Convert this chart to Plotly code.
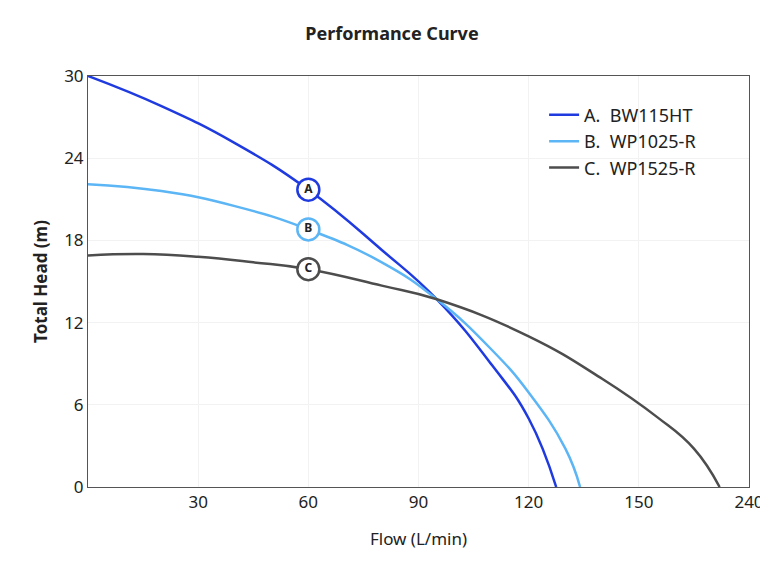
import plotly.graph_objects as go

names = ["A.  BW115HT", "B.  WP1025-R", "C.  WP1525-R"]
letters = ["A", "B", "C"]
colors = ["#1f3be0", "#5cb5f5", "#4d4d4d"]

flow_a = [0, 20, 40, 60, 80, 95, 110, 120, 127.5]
head_a = [30, 27.8, 25.1, 21.7, 17.3, 13.7, 8.9, 5.0, 0]
flow_b = [0, 20, 40, 60, 80, 95, 110, 120, 130, 134]
head_b = [22.1, 21.6, 20.5, 18.8, 16.4, 13.7, 10.0, 6.9, 2.8, 0]
flow_c = [0, 15, 30, 45, 60, 80, 95, 120, 140, 155, 165, 172]
head_c = [16.9, 17.0, 16.8, 16.4, 15.9, 14.7, 13.7, 11.0, 7.9, 5.1, 2.8, 0]
marker_flow = 60
marker_head = [21.7, 18.8, 15.9]

x_ticks = [30, 60, 90, 120, 150, 180]
x_labels = ["30", "60", "90", "120", "150", "240"]
y_ticks = [0, 6, 12, 18, 24, 30]

fig = go.Figure()
for fx, hy, n, c in zip([flow_a, flow_b, flow_c], [head_a, head_b, head_c], names, colors):
    fig.add_trace(go.Scatter(x=fx, y=hy, name=n, mode="lines",
                             line=dict(color=c, width=2.5, shape="spline", smoothing=1.3)))
for h, l, c in zip(marker_head, letters, colors):
    fig.add_trace(go.Scatter(x=[marker_flow], y=[h], mode="markers+text", text=["<b>" + l + "</b>"],
                             textposition="middle center", showlegend=False,
                             textfont=dict(size=12, color="#222"),
                             marker=dict(size=22, color="white", line=dict(color=c, width=2.5))))

fig.update_layout(
    width=768, height=561, plot_bgcolor="white", paper_bgcolor="white",
    font=dict(family="Noto Sans, Open Sans", size=17, color="#222"),
    title=dict(text="<b>Performance Curve</b>", x=0.5, y=0.965, font=dict(size=18)),
    margin=dict(l=80, r=25, t=68, b=82),
    legend=dict(x=0.69, y=0.95, bgcolor="rgba(0,0,0,0)", font=dict(size=18),
                tracegroupgap=6),
)
fig.update_xaxes(range=[0, 180], tickvals=x_ticks, ticktext=x_labels,
                 title=dict(text="Flow (L/min)", standoff=20, font=dict(size=17)),
                 showline=True, linecolor="#555", mirror=True, gridcolor="#f2f2f2",
                 zeroline=False, ticks="")
fig.update_yaxes(range=[0, 30], tickvals=y_ticks,
                 title=dict(text="<b>Total Head (m)</b>", standoff=12, font=dict(size=17)),
                 showline=True, linecolor="#555", mirror=True, gridcolor="#f2f2f2",
                 zeroline=False, ticks="")
fig.write_html("out.html")
